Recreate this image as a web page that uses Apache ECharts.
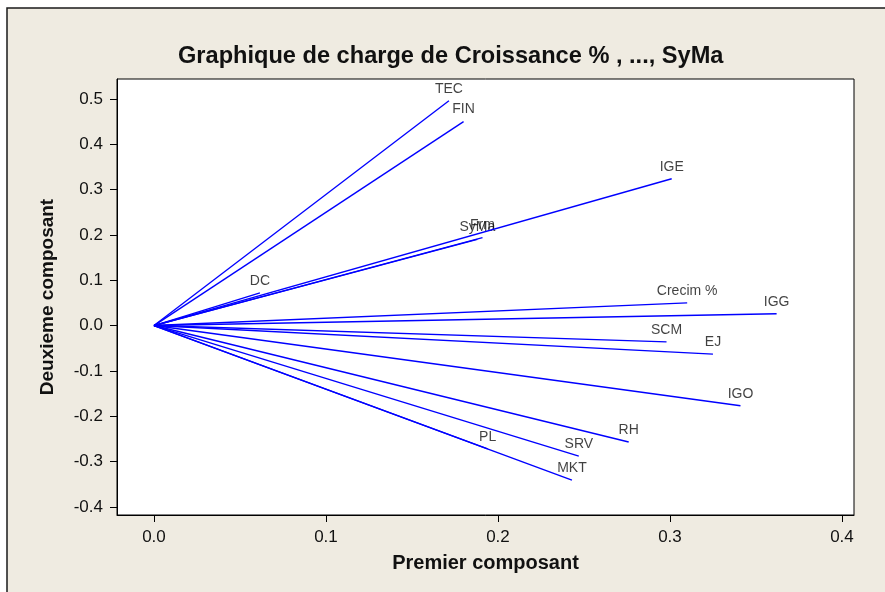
<!DOCTYPE html>
<html>
<head>
<meta charset="utf-8">
<script src="https://cdn.jsdelivr.net/npm/echarts@6/dist/echarts.min.js"></script>
<style>html,body{margin:0;padding:0;background:#fff}#c{width:885px;height:592px}</style>
</head>
<body>
<div id="c"></div>
<script>
const names = ['TEC','FIN','IGE','Frm','SyMa','DC','Crecim %','IGG','SCM','EJ','IGO','RH','SRV','MKT','PL'];
const pc1 = [0.1715,0.180,0.301,0.191,0.188,0.0616,0.310,0.362,0.298,0.325,0.341,0.276,0.247,0.243,0.194];
const pc2 = [0.496,0.450,0.324,0.194,0.190,0.072,0.050,0.026,-0.036,-0.063,-0.177,-0.257,-0.288,-0.341,-0.272];
const xTicks = [0.0,0.1,0.2,0.3,0.4];
const yTicks = [-0.4,-0.3,-0.2,-0.1,0.0,0.1,0.2,0.3,0.4,0.5];

const chart = echarts.init(document.getElementById('c'));
const FONT = '"Liberation Sans", Arial, sans-serif';
const series = names.map((n,i)=>({
  type:'line', name:n, data:[[0,0],[pc1[i],pc2[i]]],
  showSymbol:false, symbol:'none', silent:true,
  lineStyle:{color:'#0000ff',width:1.4}, z:3
}));
series.push({
  type:'scatter', symbolSize:0, silent:true,
  data: names.map((n,i)=>({name:n,value:[pc1[i],pc2[i]]})),
  label:{show:true,position:'top',distance:5,formatter:p=>p.name,
         fontFamily:FONT,fontSize:14,color:'#111'}
});
chart.setOption({
  backgroundColor:'#ffffff',
  animation:false,
  graphic:[
    {type:'rect',shape:{x:7,y:8,width:878,height:584},style:{fill:'#efebe1'},z:-10,silent:true},
    {type:'polyline',shape:{points:[[7,592],[7,8],[885,8]]},style:{stroke:'#1a1a1a',lineWidth:1.5,fill:null},z:-9,silent:true}
  ],
  title:{text:'Graphique de charge de Croissance % , ..., SyMa',left:173,top:39,
    textStyle:{fontFamily:FONT,fontWeight:'bold',fontSize:23.6,color:'#111'}},
  grid:{left:117,top:79,right:31,bottom:77,show:true,backgroundColor:'#ffffff',borderColor:'#000',borderWidth:1},
  xAxis:{type:'value',min:-0.0215,max:0.407,
    name:'Premier composant',nameLocation:'middle',nameGap:38,
    nameTextStyle:{fontFamily:FONT,fontWeight:'bold',fontSize:20,color:'#111'},
    splitLine:{show:false},
    axisLine:{show:true,onZero:false,lineStyle:{color:'#000'}},
    axisTick:{show:true,inside:false,length:7,lineStyle:{color:'#000'},customValues:xTicks},
    axisLabel:{customValues:xTicks,formatter:v=>v.toFixed(1),fontFamily:FONT,fontSize:17,color:'#111',margin:14}
  },
  yAxis:{type:'value',min:-0.418,max:0.544,
    name:'Deuxieme composant',nameLocation:'middle',nameGap:60,
    nameTextStyle:{fontFamily:FONT,fontWeight:'bold',fontSize:19,color:'#111'},
    splitLine:{show:false},
    axisLine:{show:true,onZero:false,lineStyle:{color:'#000'}},
    axisTick:{show:true,inside:false,length:7,lineStyle:{color:'#000'},customValues:yTicks},
    axisLabel:{customValues:yTicks,formatter:v=>v.toFixed(1),fontFamily:FONT,fontSize:17,color:'#111',margin:14}
  },
  series:series
});
</script>
</body>
</html>
